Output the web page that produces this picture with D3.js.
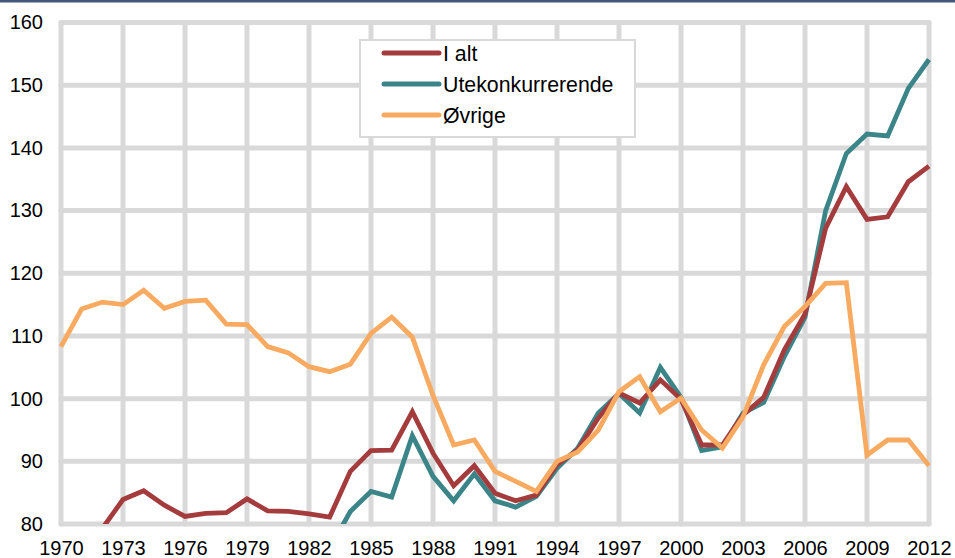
<!DOCTYPE html>
<html>
<head>
<meta charset="utf-8">
<script src="https://cdn.jsdelivr.net/npm/d3@7"></script>
<style>
  body { margin: 0; background: #fff; }
  svg { display: block; font-family: "Liberation Sans", Arial, sans-serif; }
</style>
</head>
<body>
<svg id="chart" width="955" height="558"></svg>
<script>
// years shown on the x axis
const years = d3.range(1970, 2013);
const xTicks = d3.range(1970, 2013, 3);
const yTicks = d3.range(80, 161, 10);

// I alt (values below 80 are clipped by the plot area)
const iAltYears = d3.range(1970, 2013);
const iAlt = [75.0, 77.0, 79.3, 83.9, 85.3, 83.0, 81.2, 81.7, 81.8, 84.0,
  82.1, 82.0, 81.6, 81.1, 88.4, 91.7, 91.8, 97.9, 91.3, 86.1,
  89.3, 84.9, 83.7, 84.6, 89.5, 91.8, 96.9, 100.9, 99.3, 103.0,
  99.9, 92.6, 92.6, 97.4, 100.2, 107.8, 113.5, 127.2, 133.8, 128.6,
  129.0, 134.6, 137.1];

// Utekonkurrerende
const uteYears = d3.range(1983, 2013);
const ute = [76.1, 82.0, 85.2, 84.3, 94.1, 87.6, 83.7, 88.0, 83.7, 82.7,
  84.4, 88.9, 92.1, 97.7, 100.8, 97.7, 105.0, 100.2, 91.7, 92.3,
  97.7, 99.4, 106.7, 113.0, 130.0, 139.1, 142.2, 141.9, 149.5, 154.1];

// Øvrige
const ovrYears = d3.range(1970, 2013);
const ovrige = [108.3, 114.3, 115.4, 115.0, 117.3, 114.4, 115.5, 115.7, 111.9, 111.8,
  108.3, 107.3, 105.1, 104.3, 105.5, 110.4, 113.0, 109.8, 100.5, 92.6,
  93.4, 88.4, 86.8, 85.2, 90.0, 91.5, 95.0, 101.1, 103.5, 97.9,
  100.1, 95.0, 92.1, 97.1, 105.4, 111.5, 114.7, 118.4, 118.5, 91.0,
  93.4, 93.4, 89.3];

const seriesNames = ["I alt", "Utekonkurrerende", "Øvrige"];
const colors = ["#a43c3d", "#3b8589", "#f8aa60"];

let svg = d3.select('#chart'),
    margin = {left: 61, right: 26, top: 22.5, bottom: 34},
    width = +svg.attr("width"),
    height = +svg.attr("height");

var x = d3.scaleLinear()
    .domain([1970, 2012])
    .range([margin.left, width - margin.right]);

var y = d3.scaleLinear()
    .domain([80, 160])
    .range([height - margin.bottom, margin.top]);

// dark band at the very top
svg.append("rect")
    .attr("x", 0).attr("y", 0)
    .attr("width", width).attr("height", 2.5)
    .attr("fill", "#44587c");

// grid
var grid = svg.append("g").attr("stroke", "#d9d9d9").attr("stroke-width", 5).attr("stroke-linecap", "round");

grid.selectAll(".hgrid")
    .data(yTicks)
    .enter().append("line")
    .attr("x1", x(1970)).attr("x2", x(2012))
    .attr("y1", d => y(d)).attr("y2", d => y(d));

grid.selectAll(".vgrid")
    .data(xTicks)
    .enter().append("line")
    .attr("x1", d => x(d)).attr("x2", d => x(d))
    .attr("y1", y(80)).attr("y2", y(160));

// axes labels (no domain lines, grid is drawn above)
var yAxis = svg.append("g")
    .attr("transform", "translate(" + (margin.left - 18) + ",0)")
    .call(d3.axisLeft(y).tickValues(yTicks).tickSize(0).tickPadding(0));
yAxis.select(".domain").remove();
yAxis.selectAll("text")
    .attr("font-size", 20)
    .attr("font-family", "Liberation Sans, Arial, sans-serif")
    .attr("fill", "#000");

var xAxis = svg.append("g")
    .attr("transform", "translate(0," + (y(80) + 17) + ")")
    .call(d3.axisBottom(x).tickValues(xTicks).tickFormat(d3.format("d")).tickSize(0).tickPadding(0));
xAxis.select(".domain").remove();
xAxis.selectAll("text")
    .attr("font-size", 20)
    .attr("font-family", "Liberation Sans, Arial, sans-serif")
    .attr("fill", "#000");

// clip lines to plot area
svg.append("clipPath").attr("id", "plotclip")
  .append("rect")
    .attr("x", x(1970) - 3).attr("y", y(160))
    .attr("width", x(2012) - x(1970) + 6)
    .attr("height", y(80) - y(160));

var line = d3.line()
    .x(d => x(d[0]))
    .y(d => y(d[1]));

const seriesData = [
  d3.zip(iAltYears, iAlt),
  d3.zip(uteYears, ute),
  d3.zip(ovrYears, ovrige)
];

// draw order: teal under red, orange on top
var order = [1, 0, 2];
svg.append("g").attr("clip-path", "url(#plotclip)")
  .selectAll("path")
  .data(order)
  .enter().append("path")
    .attr("d", i => line(seriesData[i]))
    .attr("fill", "none")
    .attr("stroke", i => colors[i])
    .attr("stroke-width", 4.8)
    .attr("stroke-linejoin", "miter");

// legend
var legend = svg.append("g");
legend.append("rect")
    .attr("x", 360).attr("y", 40)
    .attr("width", 275).attr("height", 97)
    .attr("fill", "#fff")
    .attr("stroke", "#d9d9d9")
    .attr("stroke-width", 2);

var items = legend.selectAll(".item")
    .data(seriesNames)
    .enter().append("g")
    .attr("transform", (d, i) => "translate(0," + (53 + i * 31) + ")");

items.append("line")
    .attr("x1", 384).attr("x2", 439)
    .attr("y1", 0).attr("y2", 0)
    .attr("stroke", (d, i) => colors[i])
    .attr("stroke-width", 5)
    .attr("stroke-linecap", "round");

items.append("text")
    .attr("x", 443).attr("y", 7.5)
    .attr("font-size", 21.3)
    .attr("fill", "#000")
    .text(d => d);
</script>
</body>
</html>
